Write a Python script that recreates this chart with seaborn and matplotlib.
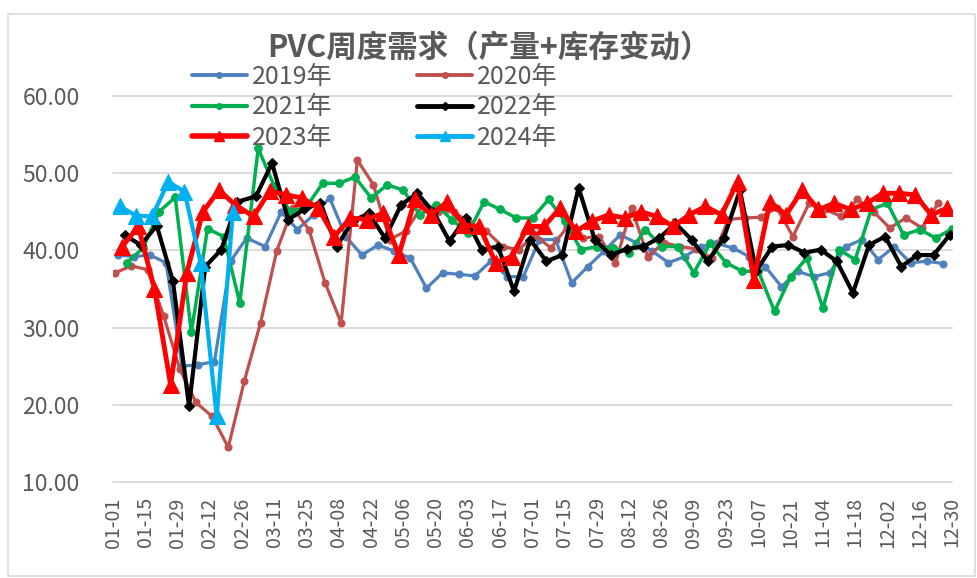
import numpy as np
import pandas as pd
import matplotlib
matplotlib.use("Agg")
import matplotlib.pyplot as plt
from matplotlib.lines import Line2D
from matplotlib.patches import Rectangle
import seaborn as sns

# ---------------- data ----------------
years = ["2019年", "2020年", "2021年", "2022年", "2023年", "2024年"]
first_dates = ["2019-01-03", "2020-01-02", "2021-01-07", "2022-01-06", "2023-01-05", "2024-01-04"]

v2019 = [39.4, 39.2, 39.4, 38.4, 25.0, 25.2, 25.6, 38.6, 41.6, 40.5, 45.0,
         42.7, 44.6, 46.8, 41.8, 39.4, 40.7, 39.9, 39.0, 35.1, 37.1,
         36.9, 36.7, 38.6, 36.6, 36.6, 41.4, 41.4, 35.8, 37.9, 39.9, 42.0,
         41.0, 39.9, 38.4, 39.2, 40.5, 40.9, 40.3, 39.2, 37.9, 35.3,
         37.3, 36.6, 37.1, 40.5, 41.4, 38.8, 40.5, 38.4, 38.6, 38.3]
v2020 = [37.1, 38.0, 37.5, 31.5, 24.6, 20.3, 18.5, 14.5, 23.1, 30.6, 39.9,
         45.5, 42.7, 35.8, 30.6, 51.7, 48.5, 41.4, 42.5, 45.7, 45.0,
         45.0, 43.5, 42.5, 40.5, 40.1, 42.0, 40.3, 43.0, 41.6, 41.8, 38.4,
         45.5, 39.2, 41.0, 40.5, 40.2, 39.0, 44.0, 44.2, 44.3, 45.5,
         41.8, 46.1, 45.3, 44.4, 46.6, 45.0, 42.9, 44.2, 42.9, 46.1]
v2021 = [38.4, 40.3, 45.0, 46.9, 29.4, 42.8, 41.8, 33.2, 53.2, 48.3,
         45.0, 45.7, 48.7, 48.7, 49.5, 46.8, 48.5, 47.8, 44.6, 45.9, 44.0,
         42.2, 46.3, 45.3, 44.2, 44.2, 46.6, 43.8, 40.1, 40.5, 40.3,
         39.7, 42.7, 40.5, 40.5, 37.1, 40.9, 38.4, 37.3, 37.3, 32.1, 36.6,
         39.0, 32.5, 40.1, 38.8, 45.3, 46.1, 42.0, 42.7, 41.6, 42.8]
v2022 = [42.0, 40.7, 43.2, 36.0, 19.8, 37.9, 40.1, 46.3, 47.0, 51.3,
         44.0, 45.3, 46.2, 40.5, 43.8, 44.8, 41.6, 45.9, 47.4, 45.0,
         41.2, 44.2, 40.1, 40.5, 34.7, 41.4, 38.6, 39.4, 48.1, 41.4,
         39.4, 40.2, 40.5, 41.6, 43.5, 41.4, 38.6, 41.6, 47.8, 37.3,
         40.5, 40.7, 39.7, 40.1, 38.6, 34.5, 40.7, 41.8, 37.9, 39.4,
         39.4, 42.0]
v2023 = [40.5, 43.1, 35.0, 22.6, 37.1, 45.0, 47.8, 45.9, 44.4, 47.7,
         47.2, 46.8, 45.5, 41.8, 44.2, 44.0, 44.8, 39.4, 46.6, 44.6, 46.3,
         43.3, 43.1, 38.4, 39.2, 43.1, 43.1, 45.5, 42.5, 43.8, 44.6, 44.2,
         45.0, 44.4, 43.1, 44.6, 45.7, 44.6, 48.9, 36.2, 46.3, 44.6,
         47.8, 45.3, 46.1, 45.3, 46.1, 47.4, 47.4, 47.2, 44.6, 45.5]
v2024 = [45.7, 44.5, 44.4, 48.9, 47.6, 38.4, 18.5, 45.0]
series_values = [v2019, v2020, v2021, v2022, v2023, v2024]

tick_labels = ["01-01", "01-15", "01-29", "02-12", "02-26", "03-11", "03-25",
               "04-08", "04-22", "05-06", "05-20", "06-03", "06-17", "07-01",
               "07-15", "07-29", "08-12", "08-26", "09-09", "09-23", "10-07",
               "10-21", "11-04", "11-18", "12-02", "12-16", "12-30"]
y_ticks = [10, 20, 30, 40, 50, 60]
title = "PVC周度需求（产量+库存变动）"

# ---------------- styles ----------------
colors = ["#4F81BD", "#C0504D", "#00B050", "#000000", "#FF0000", "#00B0F0"]
markers = ["o", "o", "o", "D", "^", "^"]
msizes = [5, 5, 5.5, 5, 12, 11]
leg_msizes = [4, 4, 4, 4, 7, 7]
lwidths = [2.3, 2.3, 2.5, 3.0, 3.5, 3.0]

ref = pd.Timestamp("2024-01-01")

def to_day(ts):
    return (pd.Timestamp(2024, ts.month, ts.day) - ref).days

rows = []
for yr, start, vals in zip(years, first_dates, series_values):
    dates = pd.date_range(start, periods=len(vals), freq="7D")
    for d, v in zip(dates, vals):
        rows.append({"year": yr, "day": to_day(d), "value": v})
df = pd.DataFrame(rows)

tick_pos = [to_day(pd.Timestamp("2024-" + t)) for t in tick_labels]

sns.set_theme(style="white")
plt.rcParams["font.family"] = ["Noto Sans CJK SC", "DejaVu Sans"]
plt.rcParams["axes.unicode_minus"] = False

W, H = 977, 578
fig = plt.figure(figsize=(W / 100, H / 100), dpi=100)
ax = fig.add_axes([113 / W, 1 - 482 / H, (952 - 113) / W, (482 - 96) / H])

for i, yr in enumerate(years):
    sub = df[df["year"] == yr]
    sns.lineplot(data=sub, x="day", y="value", ax=ax, color=colors[i],
                 marker=markers[i], markersize=msizes[i], linewidth=lwidths[i],
                 markeredgecolor=colors[i], markeredgewidth=0.8,
                 legend=False, zorder=3 + i, sort=False)

ax.set_xlim(0, 364)
ax.set_ylim(10, 60)
ax.set_xticks(tick_pos)
ax.set_xticklabels(tick_labels, rotation=90)
ax.set_yticks(y_ticks)
ax.set_yticklabels([f"{t:.2f}" for t in y_ticks])
ax.set_xlabel("")
ax.set_ylabel("")
text_c = "#595959"
ax.tick_params(axis="x", length=0, pad=11, labelsize=14, labelcolor=text_c)
ax.tick_params(axis="y", length=0, pad=24, labelsize=16.5, labelcolor=text_c)
ax.grid(axis="y", color="#D9D9D9", linewidth=1.3)
ax.grid(axis="x", visible=False)
for gl in ax.get_ygridlines():
    gl.set_clip_on(False)
for s in ax.spines.values():
    s.set_visible(False)

fig.text(0.5, 1 - 48 / H, title, ha="center", va="center", fontsize=22,
         fontweight="bold", color=text_c)

# legend laid out row-wise (2019 | 2020 / 2021 | 2022 / 2023 | 2024)
order = [0, 2, 4, 1, 3, 5]
handles = [Line2D([0], [0], color=colors[i], lw=lwidths[i] + 0.5, marker=markers[i],
                  markersize=leg_msizes[i], markeredgecolor=colors[i]) for i in order]
labels = [years[i] for i in order]
leg = fig.legend(handles, labels, ncol=2, loc="upper left",
                 bbox_to_anchor=(179 / W, 1 - 51 / H), frameon=False,
                 fontsize=18, handlelength=2.2, handletextpad=0.2,
                 columnspacing=3.4, labelspacing=0.19, borderpad=0,
                 labelcolor=text_c)

fig.patches.append(Rectangle((8 / W, 1 - 576 / H), (975 - 8) / W, (576 - 14) / H,
                             transform=fig.transFigure, fill=False,
                             edgecolor="#D9D9D9", linewidth=1.2))

fig.savefig("out.png", dpi=100)
